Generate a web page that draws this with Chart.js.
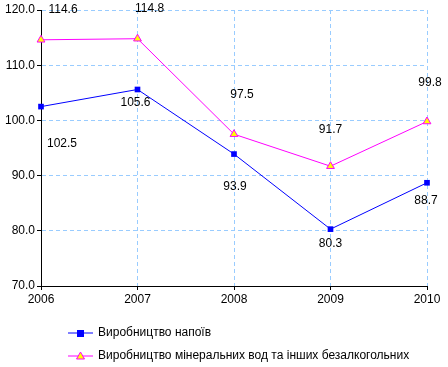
<!DOCTYPE html>
<html>
<head>
<meta charset="utf-8">
<script src="https://cdn.jsdelivr.net/npm/chart.js@4"></script>
<style>
    body { margin: 0; background: #fff; }
    #wrap { width: 448px; height: 367px; }
</style>
</head>
<body>
<div id="wrap"><canvas id="chart" width="448" height="367"></canvas></div>
<script>
// Chart data
const years = ['2006', '2007', '2008', '2009', '2010'];
const drinks = [102.5, 105.6, 93.9, 80.3, 88.7];
const mineral = [114.6, 114.8, 97.5, 91.7, 99.8];
const yTicks = [70, 80, 90, 100, 110, 120];

const seriesNames = [
    'Виробництво напоїв',
    'Виробництво мінеральних вод та інших безалкогольних'
];

// label offsets (dx, dy) relative to each point, like the Excel placement
const labelOffsets = [
    [[21, 37], [-2, 13], [1, 33], [0, 15], [-1, 18]],
    [[22, -30], [12, -30], [8, -40], [0, -37], [3, -39]]
];

const font = '12px "Liberation Sans", Arial, sans-serif';

// Draw value labels next to the points
const valueLabels = {
    id: 'valueLabels',
    afterDatasetsDraw(chart) {
        const ctx = chart.ctx;
        ctx.save();
        ctx.font = font;
        ctx.fillStyle = '#000';
        ctx.textAlign = 'center';
        ctx.textBaseline = 'middle';
        chart.data.datasets.forEach((ds, i) => {
            chart.getDatasetMeta(i).data.forEach((pt, j) => {
                const off = labelOffsets[i][j];
                ctx.fillText(ds.data[j].toFixed(1), pt.x + off[0], pt.y + off[1]);
            });
        });
        ctx.restore();
    }
};

// Legend at the bottom, one item per row
const bottomLegend = {
    id: 'bottomLegend',
    afterDraw(chart) {
        const ctx = chart.ctx;
        ctx.save();
        ctx.font = font;
        ctx.textBaseline = 'middle';
        chart.data.datasets.forEach((ds, i) => {
            const y = 333 + i * 23;
            ctx.strokeStyle = ds.borderColor;
            ctx.lineWidth = 1;
            ctx.beginPath();
            ctx.moveTo(68, y);
            ctx.lineTo(93, y);
            ctx.stroke();
            ctx.fillStyle = ds.pointBackgroundColor;
            ctx.strokeStyle = ds.pointBorderColor;
            if (ds.pointStyle === 'rect') {
                ctx.fillRect(77, y - 3, 7, 7);
            } else {
                ctx.beginPath();
                ctx.moveTo(80.5, y - 4);
                ctx.lineTo(84.5, y + 3);
                ctx.lineTo(76.5, y + 3);
                ctx.closePath();
                ctx.fill();
                ctx.stroke();
            }
            ctx.fillStyle = '#000';
            ctx.fillText(seriesNames[i], 98, y);
        });
        ctx.restore();
    }
};

new Chart(document.getElementById('chart'), {
    type: 'line',
    data: {
        labels: years,
        datasets: [
            {
                label: seriesNames[0],
                data: drinks,
                borderColor: '#0000ff',
                borderWidth: 1,
                pointStyle: 'rect',
                pointRadius: 4,
                pointBackgroundColor: '#0000ff',
                pointBorderColor: '#0000ff',
                pointBorderWidth: 0,
                tension: 0
            },
            {
                label: seriesNames[1],
                data: mineral,
                borderColor: '#ff00ff',
                borderWidth: 1,
                pointStyle: 'triangle',
                pointRadius: 4.5,
                pointBackgroundColor: '#ffff00',
                pointBorderColor: '#ff00ff',
                pointBorderWidth: 1,
                tension: 0
            }
        ]
    },
    options: {
        responsive: false,
        animation: false,
        layout: { padding: { top: 10, right: 21, left: 0, bottom: 0 } },
        plugins: {
            legend: { display: false },
            tooltip: { enabled: false }
        },
        scales: {
            x: {
                offset: false,
                grid: {
                    color: '#99ccff',
                    tickColor: '#000',
                    tickLength: 4,
                    tickBorderDash: []
                },
                border: { color: '#000', width: 1, dash: [4, 3] },
                ticks: { color: '#000', font: { family: '"Liberation Sans", Arial, sans-serif', size: 12 }, padding: 2, maxRotation: 0 },
                afterFit(scale) { scale.height = 81; }
            },
            y: {
                min: 70,
                max: 120,
                afterBuildTicks(scale) { scale.ticks = yTicks.map(v => ({ value: v })); },
                grid: {
                    color: '#99ccff',
                    tickColor: '#000',
                    tickLength: 4,
                    tickBorderDash: []
                },
                border: { color: '#000', width: 1, dash: [4, 3] },
                ticks: {
                    color: '#000',
                    font: { family: '"Liberation Sans", Arial, sans-serif', size: 12 },
                    padding: 2,
                    callback: v => v.toFixed(1)
                },
                afterFit(scale) { scale.width = 41; }
            }
        }
    },
    plugins: [valueLabels, bottomLegend]
});
</script>
</body>
</html>
